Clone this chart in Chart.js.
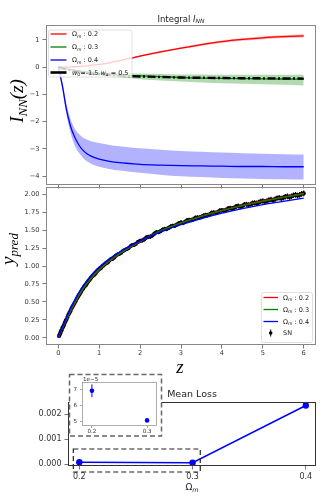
<!DOCTYPE html>
<html><head><meta charset="utf-8">
<script src="https://cdn.jsdelivr.net/npm/chart.js@4.4.0/dist/chart.umd.min.js"></script>
<style>
html,body{margin:0;padding:0;background:#fff;}
#wrap{position:relative;width:334px;height:497px;overflow:hidden;background:#fff;}
canvas{position:absolute;left:0;top:0;}
</style></head><body>
<div id="wrap">
<canvas id="c1" width="334" height="497"></canvas>
<canvas id="c2" width="334" height="497"></canvas>
<canvas id="c3" width="334" height="497"></canvas>
<canvas id="c4" width="334" height="497"></canvas>
</div>
<script>
// ---------------- DATA ----------------
const omegas = [0.2, 0.3, 0.4];

// Top panel: Integral I_NN(z)
const zGridTop = [0,0.1,0.2,0.3,0.4,0.5,0.6,0.7,0.8,1.0,1.25,1.5,1.75,2.0,2.5,3.0,3.5,4.0,4.5,5.0,5.5,6.0];
const intRed   = [0,0.0,0.005,0.01,0.015,0.02,0.035,0.05,0.07,0.1,0.16,0.24,0.32,0.41,0.56,0.70,0.83,0.94,1.02,1.08,1.12,1.15];
const redHi    = [0,0.005,0.012,0.018,0.025,0.032,0.048,0.064,0.085,0.115,0.178,0.26,0.343,0.435,0.59,0.735,0.868,0.98,1.065,1.13,1.172,1.21];
const redLo    = [0,-0.005,-0.002,0.002,0.005,0.008,0.022,0.036,0.055,0.085,0.142,0.22,0.297,0.385,0.53,0.665,0.792,0.9,0.975,1.03,1.068,1.09];
const intGreen = [0,-0.03,-0.06,-0.09,-0.12,-0.14,-0.16,-0.18,-0.2,-0.23,-0.26,-0.28,-0.3,-0.32,-0.35,-0.38,-0.4,-0.41,-0.42,-0.43,-0.435,-0.44];
const greenHi  = [0,-0.02,-0.05,-0.07,-0.09,-0.11,-0.12,-0.14,-0.15,-0.17,-0.19,-0.21,-0.22,-0.23,-0.25,-0.27,-0.27,-0.28,-0.28,-0.28,-0.28,-0.28];
const greenLo  = [0,-0.04,-0.08,-0.11,-0.15,-0.18,-0.2,-0.23,-0.25,-0.29,-0.33,-0.37,-0.41,-0.44,-0.49,-0.53,-0.56,-0.59,-0.61,-0.63,-0.65,-0.67];
const intBlue  = [0,-0.68,-1.55,-2.17,-2.57,-2.85,-3.05,-3.18,-3.27,-3.38,-3.46,-3.51,-3.54,-3.57,-3.6,-3.62,-3.63,-3.64,-3.65,-3.65,-3.66,-3.66];
const blueHi   = [0,-0.55,-1.35,-1.9,-2.25,-2.45,-2.58,-2.66,-2.72,-2.79,-2.86,-2.91,-2.95,-2.98,-3.03,-3.08,-3.11,-3.14,-3.16,-3.18,-3.2,-3.21];
const blueLo   = [0,-0.82,-1.75,-2.42,-2.87,-3.14,-3.33,-3.46,-3.55,-3.66,-3.74,-3.8,-3.84,-3.88,-3.95,-4.01,-4.04,-4.07,-4.09,-4.11,-4.12,-4.13];
const intRef   = [0,-0.04,-0.08,-0.11,-0.14,-0.17,-0.19,-0.21,-0.23,-0.26,-0.29,-0.31,-0.33,-0.34,-0.36,-0.38,-0.39,-0.40,-0.405,-0.41,-0.415,-0.42];
const topYTicks = [-4,-3,-2,-1,0,1];
const zTicks = [0,1,2,3,4,5,6];

// Middle panel: y_pred(z)
const zGridMid = [0,0.2,0.4,0.6,0.8,1.0,1.2,1.4,1.6,1.8,2.0,2.5,3.0,3.5,4.0,4.5,5.0,5.5,6.0];
const predRed   = [0,0.255,0.48,0.675,0.825,0.945,1.045,1.13,1.205,1.275,1.34,1.485,1.60,1.695,1.775,1.845,1.905,1.96,2.01];
const predGreen = [0,0.26,0.49,0.68,0.83,0.95,1.05,1.135,1.21,1.28,1.345,1.49,1.60,1.69,1.77,1.84,1.90,1.955,2.005];
const predBlue  = [0,0.28,0.525,0.72,0.87,0.985,1.08,1.16,1.23,1.29,1.35,1.475,1.575,1.66,1.735,1.80,1.855,1.90,1.945];
// SN sample (two interleaved sets of points)
const snZ = [0.02,0.05,0.08,0.12,0.16,0.2,0.25,0.3,0.35,0.4,0.46,0.52,0.58,0.64,0.7,0.77,0.84,0.91,0.98,1.05,1.13,1.21,1.29,1.37,1.45,1.54,1.63,1.72,1.81,1.9,2.0,2.1,2.2,2.3,2.4,2.5,2.6,2.7,2.8,2.9,3.0,3.1,3.2,3.3,3.4,3.5,3.6,3.7,3.8,3.9,4.0,4.1,4.2,4.3,4.4,4.5,4.6,4.7,4.8,4.9,5.0,5.1,5.2,5.3,5.4,5.5,5.6,5.7,5.8,5.9,6.0];
const snY = [0.025,0.065,0.105,0.155,0.21,0.255,0.325,0.375,0.435,0.485,0.55,0.605,0.665,0.715,0.755,0.81,0.86,0.895,0.945,0.975,1.02,1.05,1.095,1.12,1.16,1.185,1.225,1.25,1.29,1.31,1.35,1.37,1.405,1.425,1.47,1.485,1.515,1.53,1.56,1.575,1.605,1.615,1.64,1.65,1.675,1.685,1.71,1.72,1.745,1.75,1.775,1.78,1.805,1.81,1.835,1.835,1.86,1.86,1.88,1.885,1.905,1.905,1.925,1.93,1.95,1.95,1.97,1.97,1.99,1.99,2.01];
const snErr = [0.015,0.015,0.015,0.017,0.017,0.017,0.018,0.018,0.019,0.019,0.02,0.02,0.021,0.021,0.021,0.022,0.022,0.023,0.023,0.023,0.024,0.024,0.025,0.025,0.025,0.026,0.026,0.027,0.027,0.027,0.028,0.028,0.028,0.029,0.029,0.029,0.03,0.03,0.03,0.031,0.031,0.031,0.032,0.032,0.032,0.033,0.033,0.033,0.033,0.034,0.034,0.034,0.035,0.035,0.035,0.036,0.036,0.036,0.036,0.037,0.037,0.037,0.038,0.038,0.038,0.038,0.039,0.039,0.039,0.039,0.04];
const snZb = [0.035,0.065,0.1,0.14,0.18,0.225,0.275,0.325,0.375,0.43,0.49,0.55,0.61,0.67,0.735,0.805,0.875,0.945,1.015,1.09,1.17,1.25,1.33,1.41,1.495,1.585,1.675,1.765,1.855,1.95,2.05,2.15,2.25,2.35,2.45,2.55,2.65,2.75,2.85,2.95,3.05,3.15,3.25,3.35,3.45,3.55,3.65,3.75,3.85,3.95,4.05,4.15,4.25,4.35,4.45,4.55,4.65,4.75,4.85,4.95,5.05,5.15,5.25,5.35,5.45,5.55,5.65,5.75,5.85,5.95];
const snYb = [0.045,0.09,0.135,0.18,0.235,0.29,0.35,0.41,0.46,0.515,0.58,0.635,0.685,0.73,0.785,0.835,0.875,0.925,0.96,1.0,1.04,1.075,1.10,1.145,1.17,1.21,1.235,1.275,1.295,1.335,1.355,1.395,1.41,1.45,1.47,1.505,1.515,1.55,1.56,1.595,1.60,1.635,1.64,1.67,1.675,1.70,1.71,1.74,1.74,1.77,1.77,1.80,1.80,1.83,1.825,1.855,1.85,1.875,1.875,1.90,1.895,1.92,1.915,1.945,1.94,1.965,1.96,1.985,1.98,2.005];
const snErrb = [0.015,0.015,0.016,0.017,0.017,0.018,0.018,0.019,0.019,0.02,0.02,0.021,0.021,0.021,0.022,0.022,0.023,0.023,0.023,0.024,0.024,0.025,0.025,0.025,0.026,0.026,0.027,0.027,0.027,0.028,0.028,0.028,0.029,0.029,0.029,0.03,0.03,0.03,0.031,0.031,0.031,0.032,0.032,0.032,0.033,0.033,0.033,0.033,0.034,0.034,0.034,0.035,0.035,0.035,0.036,0.036,0.036,0.036,0.037,0.037,0.037,0.038,0.038,0.038,0.038,0.039,0.039,0.039,0.039,0.04];
const midYTicks = [0,0.25,0.5,0.75,1.0,1.25,1.5,1.75,2.0];

// Bottom panel: Mean Loss vs Omega_m
const meanLoss = [6.9e-5, 5.05e-5, 2.34e-3];
const lossErr  = [0.4e-5, 0.06e-5, 0.2e-5];
const lossYTicks = [0, 0.001, 0.002];
const insetYTicks = [5e-5, 6e-5, 7e-5];
const insetOmegas = [0.2, 0.3];

// ---------------- HELPERS ----------------
const xy = (xs, ys) => xs.map((x, i) => ({x: x, y: ys[i]}));
const fixTicks = arr => (s => { s.ticks = arr.map(v => ({value: v})); });
const SANS = '"DejaVu Sans"';
const SERIF = '"Liberation Serif"';

function rich(ctx, x, y, segs, align) {
  let w = 0;
  for (const s of segs) { ctx.font = s[1]; w += ctx.measureText(s[0]).width; }
  let cx = align === 'center' ? x - w / 2 : (align === 'right' ? x - w : x);
  ctx.textAlign = 'left'; ctx.textBaseline = 'alphabetic';
  for (const s of segs) { ctx.font = s[1]; ctx.fillText(s[0], cx, y + (s[2] || 0)); cx += ctx.measureText(s[0]).width; }
}
function legendBox(ctx, x, y, w, h) {
  ctx.save(); ctx.beginPath(); const r = 2;
  ctx.moveTo(x + r, y); ctx.arcTo(x + w, y, x + w, y + h, r); ctx.arcTo(x + w, y + h, x, y + h, r);
  ctx.arcTo(x, y + h, x, y, r); ctx.arcTo(x, y, x + w, y, r); ctx.closePath();
  ctx.fillStyle = 'rgba(255,255,255,0.8)'; ctx.fill();
  ctx.strokeStyle = 'rgba(204,204,204,0.8)'; ctx.lineWidth = 0.8; ctx.stroke(); ctx.restore();
}
function omegaSegs(v, size) {
  return [['\u03A9', size + 'px ' + SANS], ['m', 'italic ' + (size * 0.7).toFixed(2) + 'px ' + SANS, size * 0.2], [' : ' + v, size + 'px ' + SANS]];
}
function frame(color, lw) {
  return { id: 'frame', afterDatasetsDraw(chart) {
    const a = chart.chartArea, ctx = chart.ctx; ctx.save();
    ctx.strokeStyle = color; ctx.lineWidth = lw;
    ctx.strokeRect(Math.round(a.left) + 0.5, Math.round(a.top) + 0.5, Math.round(a.right - a.left) - 1, Math.round(a.bottom - a.top) - 1);
    ctx.restore(); } };
}
const errorBars = { id: 'errorBars', beforeDatasetDraw(chart, args) {
  const ds = chart.data.datasets[args.index]; if (!ds.errors) return;
  const xs = chart.scales.x, ys = chart.scales.y, ctx = chart.ctx; ctx.save();
  ctx.strokeStyle = ds.errColor; ctx.lineWidth = ds.errWidth; ctx.beginPath();
  ds.data.forEach((p, i) => { const px = xs.getPixelForValue(p.x);
    ctx.moveTo(px, ys.getPixelForValue(p.y + ds.errors[i])); ctx.lineTo(px, ys.getPixelForValue(p.y - ds.errors[i])); });
  ctx.stroke(); ctx.restore(); } };

function axis(opts) {
  return Object.assign({
    type: 'linear',
    border: {display: false},
    grid: {drawOnChartArea: false, drawTicks: true, tickLength: 3.5, color: '#555', lineWidth: 0.8},
    ticks: {autoSkip: false, maxRotation: 0, color: '#333', font: {family: 'DejaVu Sans', size: 6.7}, padding: 3}
  }, opts);
}
const base = (pad) => ({ responsive: false, animation: false, events: [], layout: {padding: pad},
  plugins: {legend: {display: false}, tooltip: {enabled: false}} });
const band = (xs, ys, color, fill, order) => ({ data: xy(xs, ys), borderColor: 'rgba(0,0,0,0)', borderWidth: 0,
  backgroundColor: color, fill: fill, pointRadius: 0, order: order, cubicInterpolationMode: 'monotone' });
const line = (xs, ys, color, w, order, dash) => ({ data: xy(xs, ys), borderColor: color, borderWidth: w,
  borderDash: dash || [], fill: false, pointRadius: 0, order: order, cubicInterpolationMode: 'monotone' });
const minus = v => (v < 0 ? '\u2212' + Math.abs(v) : String(v));

// ---------------- TOP PANEL ----------------
new Chart(document.getElementById('c1'), {
  type: 'line',
  data: { datasets: [
    band(zGridTop, redHi, 'rgba(255,0,0,0.3)', '+1', 8),
    band(zGridTop, redLo, 'rgba(0,0,0,0)', false, 9),
    line(zGridTop, intRed, '#ff0000', 1.3, 7),
    band(zGridTop, greenHi, 'rgba(0,128,0,0.3)', '+1', 6),
    band(zGridTop, greenLo, 'rgba(0,0,0,0)', false, 9),
    line(zGridTop, intGreen, '#008000', 1.3, 5),
    band(zGridTop, blueHi, 'rgba(0,0,255,0.3)', '+1', 4),
    band(zGridTop, blueLo, 'rgba(0,0,0,0)', false, 9),
    line(zGridTop, intBlue, '#0000ff', 1.3, 3),
    line(zGridTop, intRef, '#000000', 2.4, 1, [8, 2.5, 2, 2.5])
  ]},
  options: Object.assign(base({top: 25, right: 18, bottom: 312, left: 0}), {
    scales: {
      x: axis({min: -0.3, max: 6.3, afterBuildTicks: fixTicks(zTicks), afterFit: s => { s.height = 0; },
        ticks: {display: false}}),
      y: axis({min: -4.33, max: 1.55, afterBuildTicks: fixTicks(topYTicks), afterFit: s => { s.width = 46; },
        ticks: {autoSkip: false, color: '#333', font: {family: 'DejaVu Sans', size: 6.7}, padding: 3, callback: v => minus(v)}})
    }
  }),
  plugins: [frame('#888', 1), { id: 'deco1', afterDraw(chart) {
    const ctx = chart.ctx; ctx.save(); ctx.fillStyle = '#222';
    rich(ctx, 181, 21.5, [['Integral ', '8.5px ' + SANS], ['I', 'italic 8.5px ' + SANS], ['NN', 'italic 6px ' + SANS, 1.8]], 'center');
    ctx.fillStyle = '#000';
    ctx.translate(22.5, 101); ctx.rotate(-Math.PI / 2);
    rich(ctx, 0, 0, [['I', 'italic 19px ' + SERIF], ['NN', 'italic 13px ' + SERIF, 4], ['(z)', 'italic 19px ' + SERIF]], 'center');
    ctx.restore();
    // legend
    ctx.save();
    legendBox(ctx, 48.5, 30, 83.5, 47);
    const cols = ['#ff0000', '#008000', '#0000ff'];
    const ys = [34, 47, 60, 72.5];
    omegas.forEach((o, i) => {
      ctx.strokeStyle = cols[i]; ctx.lineWidth = 1.3; ctx.beginPath(); ctx.moveTo(50.5, ys[i]); ctx.lineTo(66.5, ys[i]); ctx.stroke();
      ctx.fillStyle = '#222'; rich(ctx, 72, ys[i] + 2.4, omegaSegs(o, 6.5), 'left');
    });
    ctx.strokeStyle = '#000'; ctx.lineWidth = 2.6; ctx.beginPath(); ctx.moveTo(50.5, ys[3]); ctx.lineTo(66.5, ys[3]); ctx.stroke();
    ctx.fillStyle = '#222';
    rich(ctx, 72, ys[3] + 2.4, [['w', 'italic 6.5px ' + SANS], ['0', '4.6px ' + SANS, 1.3], ['=-1.5 ', '6.5px ' + SANS],
      ['w', 'italic 6.5px ' + SANS], ['a', 'italic 4.6px ' + SANS, 1.3], [' = 0.5', '6.5px ' + SANS]], 'left');
    ctx.restore();
  } }]
});

// ---------------- MIDDLE PANEL ----------------
new Chart(document.getElementById('c2'), {
  type: 'line',
  data: { datasets: [
    { data: xy(snZ, snY).concat(xy(snZb, snYb)), showLine: false, pointRadius: 2.1, pointBackgroundColor: '#000', pointBorderWidth: 0,
      borderColor: '#000', errors: snErr.concat(snErrb), errColor: '#000', errWidth: 1.2, order: 10 },
    line(zGridMid, predRed, '#ff0000', 1.3, 3),
    line(zGridMid, predGreen, '#008000', 1.3, 2),
    line(zGridMid, predBlue, '#0000ff', 1.3, 1)
  ]},
  options: Object.assign(base({top: 187, right: 18, bottom: 137, left: 0}), {
    scales: {
      x: axis({min: -0.3, max: 6.3, afterBuildTicks: fixTicks(zTicks), afterFit: s => { s.height = 15; },
        ticks: {autoSkip: false, maxRotation: 0, color: '#333', font: {family: 'DejaVu Sans', size: 6.7}, padding: 0.5, callback: v => String(v)}}),
      y: axis({min: -0.1, max: 2.1, afterBuildTicks: fixTicks(midYTicks), afterFit: s => { s.width = 46; },
        ticks: {autoSkip: false, color: '#333', font: {family: 'DejaVu Sans', size: 6.7}, padding: 3, callback: v => v.toFixed(2)}})
    }
  }),
  plugins: [errorBars, frame('#888', 1), { id: 'deco2', afterDraw(chart) {
    const ctx = chart.ctx; ctx.save(); ctx.fillStyle = '#000';
    rich(ctx, 180, 373, [['z', 'italic 19px ' + SERIF]], 'center');
    ctx.save(); ctx.translate(14, 249); ctx.rotate(-Math.PI / 2);
    rich(ctx, 0, 0, [['y', 'italic 19px ' + SERIF], ['pred', 'italic 13px ' + SERIF, 3.5]], 'center');
    ctx.restore();
    legendBox(ctx, 261.5, 292.5, 51, 50);
    const cols = ['#ff0000', '#008000', '#0000ff'];
    const ys = [297.5, 309.5, 321.5, 333];
    omegas.forEach((o, i) => {
      ctx.strokeStyle = cols[i]; ctx.lineWidth = 1.3; ctx.beginPath(); ctx.moveTo(263.5, ys[i]); ctx.lineTo(278, ys[i]); ctx.stroke();
      ctx.fillStyle = '#222'; rich(ctx, 283, ys[i] + 2.4, omegaSegs(o, 6.5), 'left');
    });
    ctx.strokeStyle = '#000'; ctx.lineWidth = 1; ctx.beginPath(); ctx.moveTo(270.7, ys[3] - 3.5); ctx.lineTo(270.7, ys[3] + 3.5); ctx.stroke();
    ctx.fillStyle = '#000'; ctx.beginPath(); ctx.arc(270.7, ys[3], 1.8, 0, Math.PI * 2); ctx.fill();
    ctx.fillStyle = '#222'; rich(ctx, 283, ys[3] + 2.4, [['SN', '6.5px ' + SANS]], 'left');
    ctx.restore();
  } }]
});

// ---------------- BOTTOM PANEL ----------------
new Chart(document.getElementById('c3'), {
  type: 'line',
  data: { datasets: [
    { data: xy(omegas, meanLoss), borderColor: '#0000ff', borderWidth: 1.5, pointRadius: 3.2,
      pointBackgroundColor: '#0000ff', pointBorderWidth: 0, fill: false, tension: 0 }
  ]},
  options: Object.assign(base({top: 402, right: 18, bottom: 11, left: 0}), {
    scales: {
      x: axis({min: 0.19, max: 0.409, afterBuildTicks: fixTicks(omegas), afterFit: s => { s.height = 20; },
        ticks: {autoSkip: false, maxRotation: 0, color: '#333', font: {family: 'DejaVu Sans', size: 8}, padding: 2.5, callback: v => v.toFixed(1)}}),
      y: axis({min: -0.00008, max: 0.00248, afterBuildTicks: fixTicks(lossYTicks), afterFit: s => { s.width = 68; },
        ticks: {autoSkip: false, color: '#333', font: {family: 'DejaVu Sans', size: 8}, padding: 3, callback: v => v.toFixed(3)}})
    }
  }),
  plugins: [frame('#333', 1), { id: 'deco3', afterDraw(chart) {
    const ctx = chart.ctx, xs = chart.scales.x, ys = chart.scales.y; ctx.save();
    // zoomed region marker
    const x0 = xs.getPixelForValue(0.1947), x1 = xs.getPixelForValue(0.3068);
    const y0 = ys.getPixelForValue(0.0006), y1 = ys.getPixelForValue(-0.00032);
    ctx.setLineDash([5, 3]); ctx.strokeStyle = '#222'; ctx.lineWidth = 1.2;
    ctx.strokeRect(x0, y0, x1 - x0, y1 - y0);
    ctx.setLineDash([]);
    ctx.fillStyle = '#222';
    rich(ctx, 192, 396.5, [['Mean Loss', '9.5px ' + SANS]], 'center');
    rich(ctx, 192, 489.5, [['\u03A9', '9px ' + SANS], ['m', 'italic 6.3px ' + SANS, 2]], 'center');
    ctx.restore();
  } }]
});

// ---------------- INSET ----------------
new Chart(document.getElementById('c4'), {
  type: 'line',
  data: { datasets: [
    { data: xy(insetOmegas, meanLoss.slice(0, 2)), showLine: false, pointRadius: 2.3, pointBackgroundColor: '#0000ff',
      pointBorderWidth: 0, borderColor: '#0000ff', errors: lossErr.slice(0, 2), errColor: '#0000ff', errWidth: 1 }
  ]},
  options: Object.assign(base({top: 382, right: 177, bottom: 61, left: 0}), {
    scales: {
      x: axis({min: 0.182, max: 0.318, afterBuildTicks: fixTicks(insetOmegas), afterFit: s => { s.height = 10; },
        grid: {drawOnChartArea: false, drawTicks: true, tickLength: 2, color: '#666', lineWidth: 0.6},
        ticks: {autoSkip: false, maxRotation: 0, color: '#333', font: {family: 'DejaVu Sans', size: 5.6}, padding: 0, callback: v => v.toFixed(1)}}),
      y: axis({min: 4.7e-5, max: 7.45e-5, afterBuildTicks: fixTicks(insetYTicks), afterFit: s => { s.width = 82; },
        grid: {drawOnChartArea: false, drawTicks: true, tickLength: 2, color: '#666', lineWidth: 0.6},
        ticks: {autoSkip: false, color: '#333', font: {family: 'DejaVu Sans', size: 5.6}, padding: 3, callback: v => (v / 1e-5).toFixed(0)}})
    }
  }),
  plugins: [errorBars, frame('#999', 0.8), { id: 'deco4',
    beforeDraw(chart) {
      const ctx = chart.ctx; ctx.save();
      ctx.fillStyle = '#fff'; ctx.fillRect(69.5, 374.5, 92, 61.5);
      ctx.setLineDash([5, 3]); ctx.strokeStyle = '#666'; ctx.lineWidth = 1.5;
      ctx.strokeRect(69.5, 374.5, 92, 61.5); ctx.restore();
    },
    afterDraw(chart) {
      const ctx = chart.ctx; ctx.save(); ctx.fillStyle = '#333';
      rich(ctx, chart.chartArea.left + 1, chart.chartArea.top - 1.5, [['1e\u22125', '5.6px ' + SANS]], 'left');
      ctx.restore();
    } }]
});
</script>
</body></html>
